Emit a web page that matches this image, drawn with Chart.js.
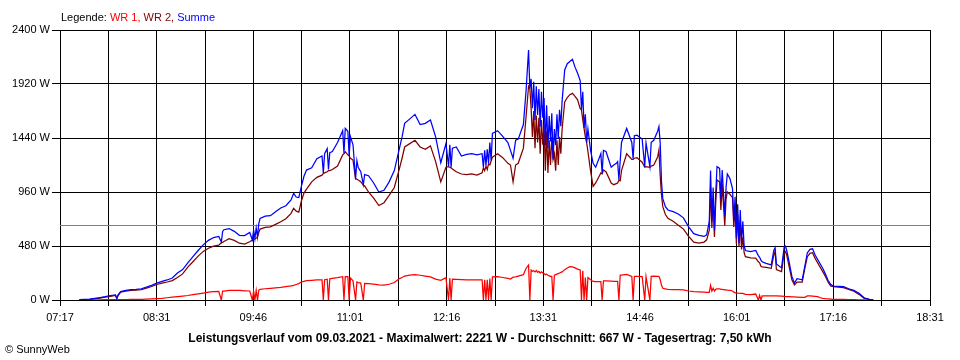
<!DOCTYPE html>
<html>
<head>
<meta charset="utf-8">
<script src="https://cdn.jsdelivr.net/npm/chart.js@4.4.1/dist/chart.umd.min.js"></script>
<style>
html,body{margin:0;padding:0;background:#fff;}
#wrap{position:relative;width:960px;height:360px;overflow:hidden;background:#fff;}
canvas{position:absolute;left:0;top:0;}
</style>
</head>
<body>
<div id="wrap"><canvas id="c" width="960" height="360"></canvas></div>
<script>
// ---- data ----
const xTickLabels = ['07:17','08:31','09:46','11:01','12:16','13:31','14:46','16:01','17:16','18:31'];
const yTickValues = [0,480,960,1440,1920,2400];
const avgPower = 667;
const titleText = 'Leistungsverlauf vom 09.03.2021 - Maximalwert: 2221 W - Durchschnitt: 667 W - Tagesertrag: 7,50 kWh';
const legendParts = [['Legende: ','#000000'],['WR 1, ','#ff0000'],['WR 2, ','#800000'],['Summe','#0000ff']];
const copyrightText = '\u00A9 SunnyWeb';

const times = [
 '07:32','07:36','07:40','07:44','07:48','07:52','07:56',
 '08:00','08:01','08:02','08:04','08:08','08:12','08:16','08:20','08:24','08:28','08:32','08:36','08:40','08:44','08:48','08:52','08:56',
 '09:00','09:04','09:08','09:12','09:16','09:20','09:22','09:23','09:24','09:28','09:32','09:36','09:40','09:44','09:46','09:47','09:48','09:49','09:50','09:51','09:52','09:56',
 '10:00','10:04','10:08','10:12','10:16','10:18','10:20','10:22','10:24','10:26','10:28','10:32','10:36','10:40','10:41','10:42','10:44','10:45','10:46','10:48','10:52','10:56','10:57','10:58',
 '11:00','11:01','11:02','11:04','11:06','11:07','11:08','11:10','11:12','11:13','11:16','11:20','11:24','11:28','11:32','11:36','11:40','11:42','11:44','11:48','11:52','11:56',
 '12:00','12:04','12:08','12:12','12:16','12:18','12:19','12:20','12:21','12:24','12:28','12:32','12:36','12:40','12:44','12:45','12:46','12:47','12:48','12:49','12:50','12:51','12:52','12:56',
 '13:00','13:04','13:06','13:08','13:10','13:12','13:16','13:18','13:20','13:21','13:22','13:23','13:24','13:25','13:26','13:27','13:28','13:29','13:30','13:31','13:32','13:33','13:34','13:35','13:36','13:37','13:38','13:39','13:40','13:41','13:42','13:43','13:44','13:45','13:46','13:48','13:50','13:52','13:54','13:56','13:58',
 '14:00','14:01','14:02','14:03','14:04','14:05','14:06','14:08','14:10','14:12','14:16','14:17','14:18','14:20','14:24','14:26','14:28','14:29','14:30','14:31','14:32','14:36','14:40','14:41','14:42','14:44','14:48','14:50','14:51','14:54','14:55','14:57',
 '15:00','15:01','15:02','15:03','15:04','15:06','15:08','15:12','15:16','15:20','15:24','15:28','15:32','15:36','15:38','15:40','15:41','15:42','15:43','15:44','15:45','15:46','15:48','15:49','15:50','15:52','15:53','15:54','15:56','15:58','15:59',
 '16:00','16:01','16:02','16:03','16:04','16:05','16:06','16:07','16:08','16:12','16:16','16:18','16:19','16:20','16:21','16:24','16:28','16:30','16:31','16:32','16:36','16:38','16:39','16:40','16:42','16:44','16:46','16:48','16:52','16:54','16:56','16:58',
 '17:00','17:02','17:04','17:06','17:08','17:10','17:12','17:14','17:16','17:20','17:24','17:28','17:32','17:36','17:40','17:44','17:47'
];

// Summe (blue)
const summe = [
 3,6,8,15,22,30,40,
 46,14,46,75,85,92,95,100,115,130,150,165,178,195,240,270,330,
 385,440,490,530,555,565,515,610,625,635,610,575,572,600,535,620,545,640,560,680,725,745,
 750,785,818,838,890,948,915,910,1010,1100,1155,1175,1255,1280,1130,1300,1345,1160,1310,1320,1400,1505,1305,1526,
 1500,1285,1452,1380,1075,1240,1180,1140,1025,1115,1105,1040,960,975,1050,1150,1350,1450,1570,1610,1650,1560,
 1570,1600,1450,1220,1390,1190,1380,1180,1350,1360,1280,1295,1300,1290,1300,1180,1330,1195,1340,1215,1400,1240,1480,1505,
 1455,1400,1330,1260,1420,1430,1560,1850,2221,1880,1965,1705,1940,1600,1900,1645,1875,1540,1850,1620,1795,1375,1730,1350,1635,1410,1660,1250,1520,1375,1650,1435,1690,1545,1770,2045,2100,2120,2140,2070,2015,
 1950,1690,1850,1530,1650,1400,1520,1333,1215,1180,1300,1125,1330,1320,1180,1200,1215,1230,1070,1240,1400,1525,1400,1255,1460,1465,1430,1185,1395,1185,1400,1420,
 1500,1541,1393,1050,900,830,800,785,765,730,650,590,575,565,580,700,1150,700,1000,620,950,1185,1170,900,1155,750,1000,1120,1080,990,700,
 918,550,850,504,800,520,700,480,440,430,440,395,380,355,340,325,312,440,465,320,285,470,480,440,330,210,150,190,180,300,420,450,
 455,400,360,320,280,230,175,140,124,122,118,100,85,60,20,6,3
];

// WR 2 (dark red)
const wr2 = [
 2,4,6,10,16,25,33,
 40,12,40,70,78,85,88,92,105,120,138,150,160,172,200,232,292,
 340,390,432,460,478,488,510,512,520,545,530,505,497,518,532,538,542,550,560,600,630,645,
 650,672,695,722,770,815,790,780,880,950,985,1050,1090,1110,1125,1130,1140,1150,1150,1160,1190,1290,1300,1318,
 1290,1280,1260,1244,1075,1075,1067,1052,1020,1015,960,905,840,865,930,1000,1170,1260,1360,1390,1420,1360,
 1340,1370,1230,1050,1180,1185,1180,1175,1165,1140,1120,1115,1120,1110,1130,1175,1150,1190,1160,1210,1200,1235,1270,1300,
 1265,1215,1200,1050,1200,1215,1350,1620,1900,1880,1700,1450,1680,1350,1640,1400,1620,1300,1600,1380,1560,1150,1500,1130,1420,1200,1450,1250,1300,1150,1420,1200,1450,1300,1520,1760,1800,1825,1837,1810,1780,
 1700,1690,1600,1525,1450,1400,1320,1150,1010,1040,1130,1120,1155,1140,1040,1025,1035,1040,1065,1060,1150,1300,1250,1250,1260,1265,1225,1180,1185,1180,1190,1200,
 1270,1333,1100,930,830,760,726,700,665,630,565,515,505,515,535,620,1000,640,900,560,870,1067,1050,800,1030,660,900,960,940,910,650,
 830,500,760,474,700,450,560,420,385,375,372,340,330,300,295,290,282,400,430,270,252,420,430,400,290,180,135,160,160,282,385,415,
 420,370,330,290,250,210,160,125,118,115,110,95,78,50,15,5,2
];

// WR 1 (red)
const wr1 = [
 0,0,0,0,2,3,3,
 3,2,3,4,4,5,5,6,8,10,12,15,20,25,30,35,40,
 48,55,62,70,74,76,0,80,80,85,85,85,82,80,0,80,0,85,0,88,95,100,
 104,108,112,118,125,130,138,146,160,166,172,175,178,178,0,180,185,0,188,192,198,207,0,207,
 207,0,195,170,0,160,154,150,0,148,145,142,135,133,140,155,190,200,213,222,226,220,
 213,205,185,175,198,0,195,0,185,184,182,180,180,178,178,0,180,0,180,0,190,0,205,207,
 200,192,186,203,205,212,225,280,311,0,265,255,260,250,262,245,255,240,250,240,235,225,230,220,215,210,210,0,220,225,230,235,240,245,250,270,285,296,295,285,275,
 267,0,260,0,200,0,200,180,165,163,163,0,170,170,168,165,165,165,0,222,222,228,210,0,210,210,208,0,207,0,210,212,
 210,210,180,130,104,98,95,93,92,90,80,74,72,70,68,67,130,80,105,80,95,100,100,95,95,90,90,88,85,80,70,
 65,62,62,60,59,59,58,55,50,48,53,0,42,0,36,36,36,36,36,36,34,33,30,30,30,28,27,26,24,24,36,36,
 35,33,30,20,15,12,10,8,5,5,5,4,3,2,1,0,0
];

// ---- build ----
const FONT = '"Liberation Sans", Arial, sans-serif';
const toMin = s => { const p = s.split(':'); return (+p[0]) * 60 + (+p[1]); };
const xMin = toMin(xTickLabels[0]);
const xMax = toMin(xTickLabels[xTickLabels.length - 1]);
const divisions = (xTickLabels.length - 1) * 2;
const gridValues = Array.from({length: divisions + 1}, (_, i) => xMin + i * (xMax - xMin) / divisions);
const pts = arr => times.map((t, i) => ({x: toMin(t), y: arr[i]}));

// average line (drawn through the y scale, pixel aligned) + texts
const sunnyPlugin = {
  id: 'sunnyTexts',
  beforeDatasetsDraw(chart) {
    const ctx = chart.ctx, a = chart.chartArea;
    const y = Math.round(chart.scales.y.getPixelForValue(avgPower)) + 0.5;
    ctx.save();
    ctx.strokeStyle = '#808080';
    ctx.lineWidth = 1;
    ctx.beginPath();
    ctx.moveTo(a.left, y);
    ctx.lineTo(a.right, y);
    ctx.stroke();
    ctx.restore();
  },
  afterDraw(chart) {
    const ctx = chart.ctx;
    ctx.save();
    ctx.textBaseline = 'alphabetic';
    ctx.textAlign = 'left';
    ctx.font = '11px ' + FONT;
    let x = 61;
    legendParts.forEach(([txt, col]) => {
      ctx.fillStyle = col;
      ctx.fillText(txt, x, 21);
      x += ctx.measureText(txt).width;
    });
    ctx.fillStyle = '#000';
    ctx.fillText(copyrightText, 5, 353);
    ctx.font = 'bold 12px ' + FONT;
    ctx.textAlign = 'center';
    ctx.fillText(titleText, 480, 342);
    ctx.restore();
  }
};

const lineDs = (label, arr, color, order) => ({
  label, data: pts(arr), borderColor: color, backgroundColor: color,
  borderWidth: 1.25, stepped: false, tension: 0, pointRadius: 0, fill: false, order
});

new Chart(document.getElementById('c'), {
  type: 'line',
  data: {
    datasets: [
      lineDs('Summe', summe, '#0000ff', 1),
      lineDs('WR 2', wr2, '#800000', 2),
      lineDs('WR 1', wr1, '#ff0000', 3)
    ]
  },
  options: {
    responsive: false,
    animation: false,
    layout: {padding: {top: 30, right: 30, left: 0, bottom: 0}},
    plugins: {legend: {display: false}, tooltip: {enabled: false}, title: {display: false}},
    scales: {
      x: {
        type: 'linear', min: xMin, max: xMax,
        afterBuildTicks: s => { s.ticks = gridValues.map(v => ({value: v})); },
        afterFit: s => { s.height = 60; },
        ticks: {autoSkip: false, maxRotation: 0, minRotation: 0, color: '#000', padding: 5,
                font: {family: FONT, size: 11},
                callback: (v, i) => (i % 2 === 0 ? xTickLabels[i / 2] : '')},
        grid: {color: '#000', lineWidth: 1, tickLength: 6},
        border: {color: '#000', width: 1}
      },
      y: {
        min: 0, max: 2400,
        afterBuildTicks: s => { s.ticks = yTickValues.map(v => ({value: v})); },
        afterFit: s => { s.width = 60; },
        ticks: {color: '#000', padding: 2, font: {family: FONT, size: 11},
                callback: v => v + ' W'},
        grid: {color: '#000', lineWidth: 1, tickLength: 8},
        border: {color: '#000', width: 1}
      }
    }
  },
  plugins: [sunnyPlugin]
});
</script>
</body>
</html>
